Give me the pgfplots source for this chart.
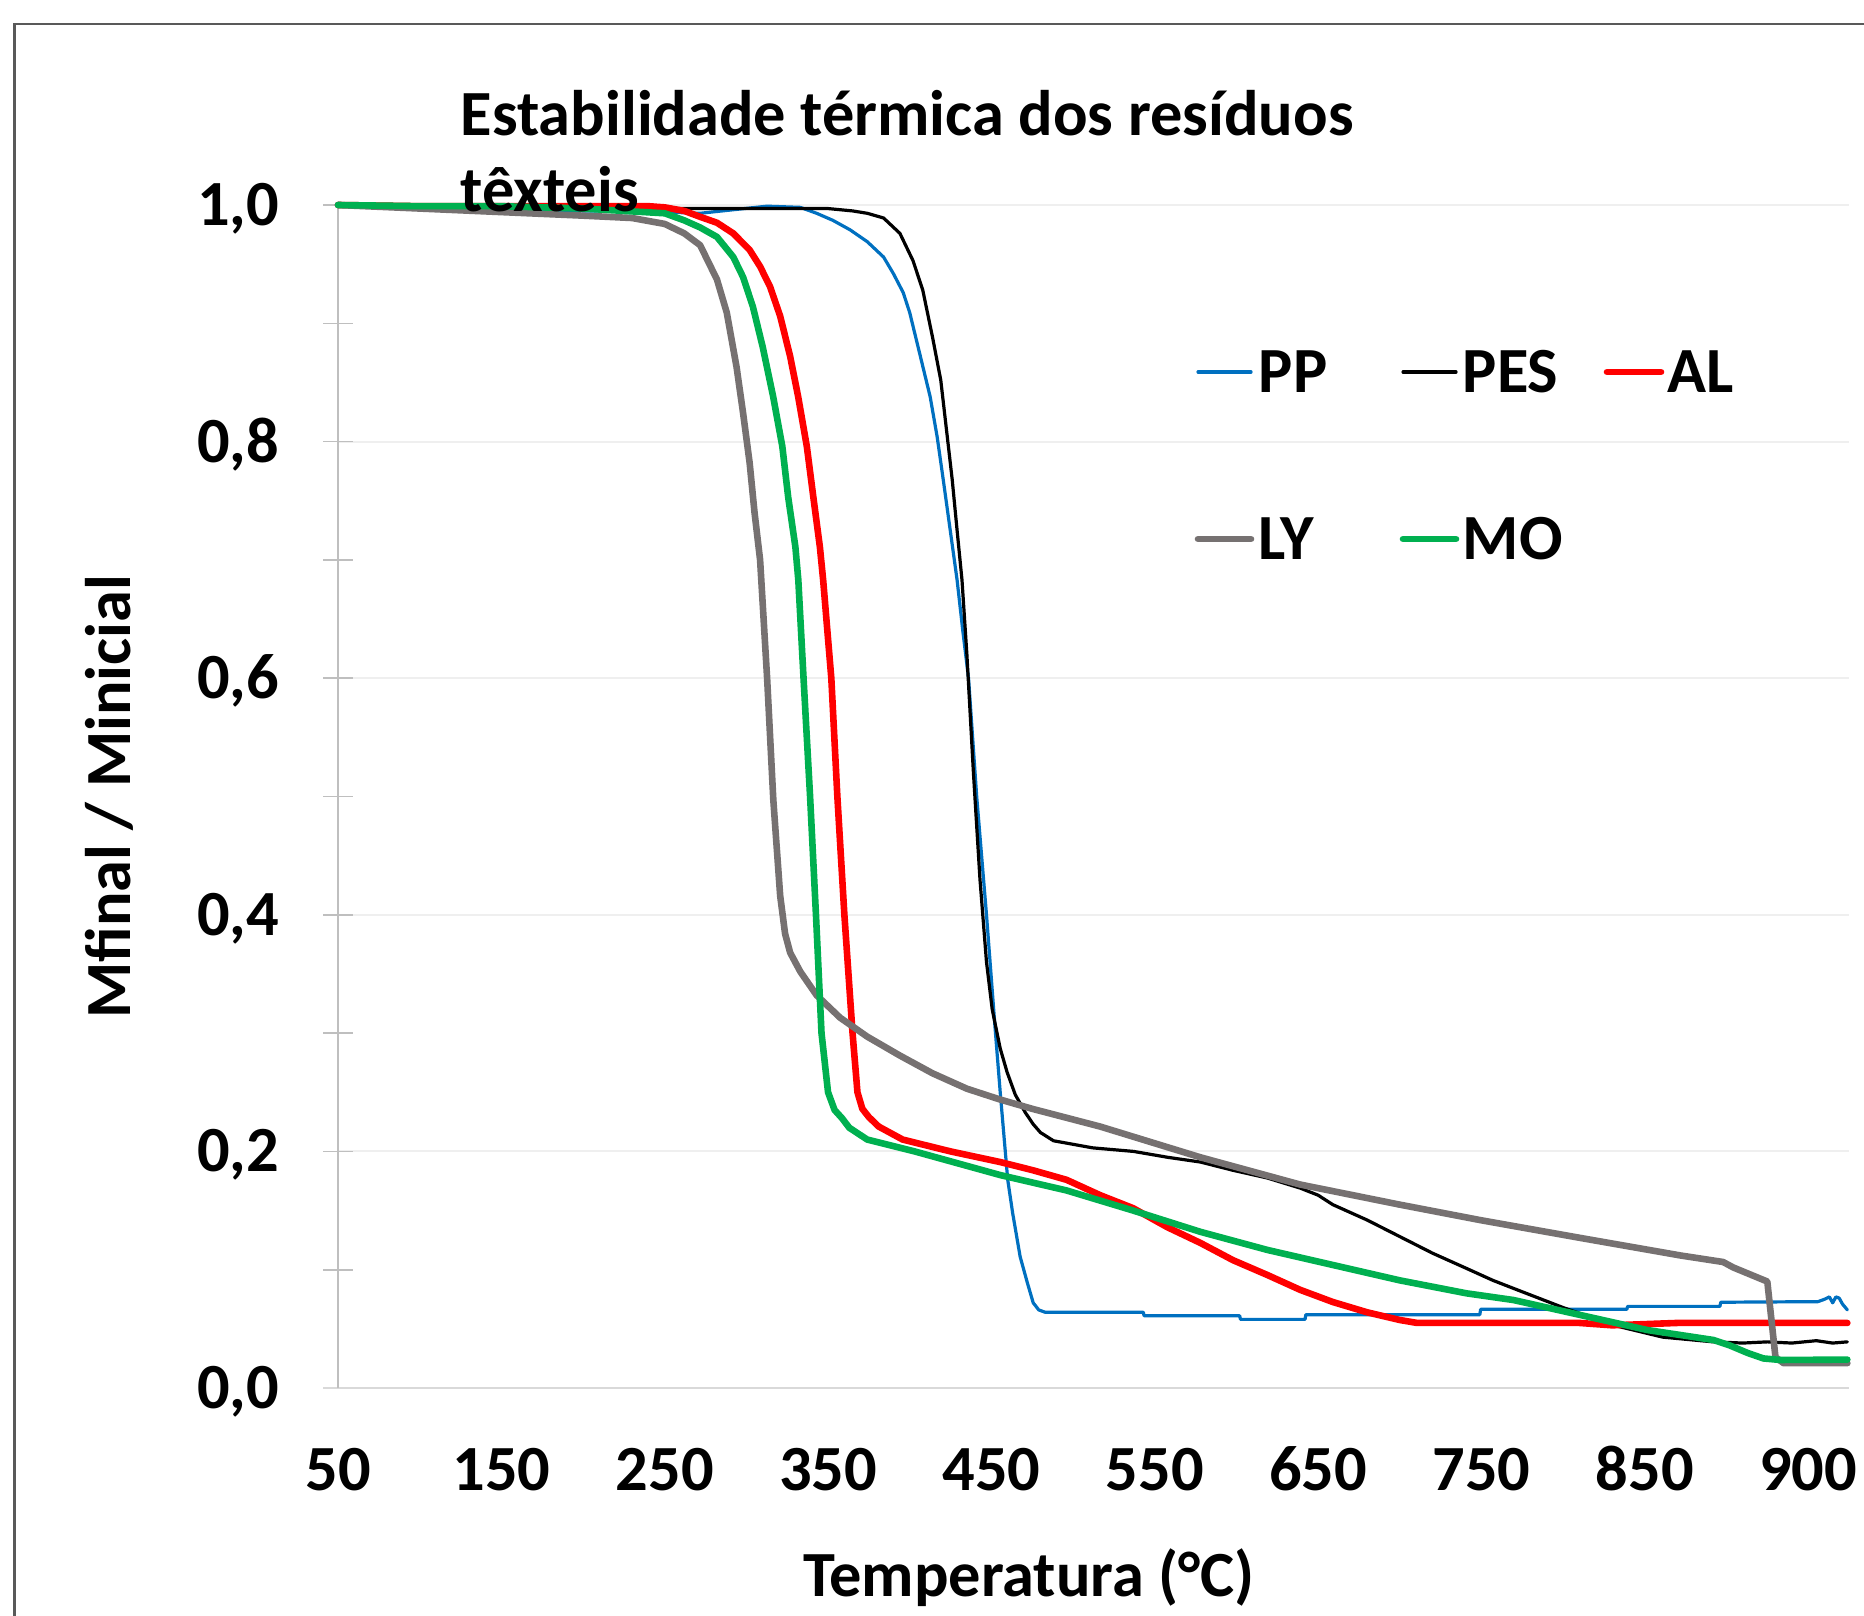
\documentclass[border=0pt]{standalone}
\usepackage{fontspec}
\setmainfont{Carlito}
\usepackage{pgfplots}
\pgfplotsset{compat=1.18}

\definecolor{ppblue}{HTML}{0070C0}
\definecolor{alred}{HTML}{FF0000}
\definecolor{lygray}{HTML}{767171}
\definecolor{mogreen}{HTML}{00B050}
\definecolor{gridc}{HTML}{EFEFEF}
\definecolor{axisc}{HTML}{BFBFBF}
\definecolor{xaxisc}{HTML}{D9D9D9}
\definecolor{framec}{HTML}{595959}

\newcommand\lbl{\fontsize{16.1}{19.6}\selectfont\bfseries}

\begin{document}
\begin{tikzpicture}
\useasboundingbox (0,0) rectangle (466pt,-404pt);
% chart area frame (cut by the picture edge on the right and bottom)
\draw[framec, line width=0.6pt] (466pt,-6pt) -- (3.6pt,-6pt) -- (3.6pt,-404pt);

\begin{axis}[
  at={(84.5pt,-347pt)}, anchor=south west,
  scale only axis, width=377.75pt, height=295.75pt,
  xmin=50, xmax=975, ymin=0, ymax=1,
  axis x line=bottom, axis y line=left, axis line style={-},
  x axis line style={draw=xaxisc, line width=0.7pt, shorten <=-3.75pt},
  y axis line style={draw=axisc, line width=0.4pt},
  xtick={50,150,250,350,450,550,650,750,850,950},
  xticklabels={50,150,250,350,450,550,650,750,850,900},
  xtick style={draw=none},
  ytick={0,0.2,0.4,0.6,0.8,1},
  yticklabels={{0,0},{0,2},{0,4},{0,6},{0,8},{1,0}},
  minor ytick={0.1,0.3,0.5,0.7,0.9},
  ytick style={draw=axisc, line width=0.4pt},
  tick align=center, major tick length=7.5pt, minor tick length=7.5pt,
  ymajorgrids, major grid style={draw=gridc, line width=0.5pt},
  tick label style={font=\lbl},
  y tick label style={anchor=base east, inner sep=0pt, xshift=-10.8pt, yshift=-5.1pt},
  x tick label style={anchor=base, inner sep=0pt, yshift=-21.95pt},
  clip=false,
  every axis plot/.append style={line join=round, line cap=round},
]
% PP
\addplot[ppblue, line width=0.8pt] coordinates {
(50,1.0) (100,0.997) (150,0.996) (200,0.995) (250,0.994) (271.7,0.993)
(292,0.996) (312.7,0.999) (333,0.998) (343,0.993) (353,0.987) (363.5,0.979)
(374,0.969) (384,0.956) (390,0.942) (396,0.926) (400,0.909) (406,0.875)
(412.5,0.838) (416.8,0.804) (420.5,0.768) (424.8,0.725) (429,0.683)
(432.5,0.64) (436,0.6) (441,0.5) (447,0.4) (452.5,0.3) (455.4,0.25)
(458.5,0.2) (460,0.176) (463,0.148) (467.6,0.111) (472,0.089) (475.6,0.072)
(479,0.066) (483,0.064) (543,0.064) (543.5,0.061) (602,0.061) (602.5,0.058)
(642,0.058) (642.5,0.062) (749,0.062) (749.5,0.0665) (839,0.0665)
(839.5,0.069) (896,0.069) (896.5,0.0725) (956,0.073) (960,0.075) (963,0.077)
(965,0.072) (967,0.077) (969,0.076) (971,0.071) (974,0.066)
};
% PES
\addplot[black, line width=0.8pt] coordinates {
(50,1.0) (150,0.998) (250,0.997) (300,0.997) (350,0.997) (365,0.995)
(374,0.993) (384,0.989) (394,0.976) (402,0.953) (408,0.928) (414,0.888)
(419,0.852) (423,0.804) (426,0.768) (429,0.725) (432,0.683) (435,0.62)
(439,0.52) (443,0.43) (447,0.36) (450.5,0.32) (455.4,0.287) (459.6,0.267)
(464.6,0.248) (470.7,0.233) (475.6,0.223) (480,0.216) (488,0.209)
(496,0.207) (512,0.203) (537,0.200) (558,0.195) (578,0.191) (598,0.184)
(619,0.1775) (639,0.169) (650,0.163) (659,0.155) (680,0.142) (700,0.128)
(720,0.114) (741,0.101) (757,0.091) (770,0.084) (800,0.068) (831,0.053)
(861,0.043) (892,0.039) (910,0.038) (925,0.039) (940,0.038) (955,0.040)
(965,0.038) (974,0.039)
};
% AL
\addplot[alred, line width=1.65pt] coordinates {
(50,1.0) (100,0.999) (150,0.999) (200,0.999) (240,0.999) (250,0.998)
(262,0.995) (271.7,0.990) (282,0.985) (292,0.976) (302,0.962) (308.4,0.948)
(314.5,0.931) (320.7,0.906) (326.8,0.872) (331.7,0.838) (337,0.796)
(341,0.753) (345,0.711) (347,0.683) (352,0.6) (355.7,0.5) (360,0.4)
(365,0.3) (368,0.25) (371,0.236) (375,0.229) (381,0.221) (395.7,0.21)
(425,0.2) (455.4,0.191) (475.6,0.184) (496,0.176) (516.6,0.163)
(536.8,0.152) (557.6,0.136) (578,0.1226) (598,0.108) (619,0.0955)
(639,0.083) (659,0.0727) (680,0.064) (700,0.0575) (710.6,0.055)
(761,0.055) (810,0.055) (830,0.053) (850,0.054) (870,0.055) (900,0.055)
(940,0.055) (974,0.055)
};
% LY
\addplot[lygray, line width=1.65pt] coordinates {
(50,1.0) (100,0.997) (150,0.994) (200,0.991) (230,0.989) (250,0.984)
(262,0.976) (271.7,0.966) (282,0.937) (288,0.909) (294,0.863) (298,0.824)
(302,0.782) (305,0.740) (308.4,0.70) (312.7,0.6) (316.5,0.497)
(320.7,0.416) (323.7,0.384) (326.8,0.368) (333,0.352) (343,0.332)
(357.4,0.313) (374,0.297) (394,0.281) (414,0.266) (435,0.253) (455,0.244)
(475,0.236) (516.6,0.221) (578,0.195) (639,0.172) (700,0.155) (749,0.142)
(810,0.127) (872,0.112) (898,0.1065) (904,0.102) (925,0.090) (930,0.026)
(935,0.021) (974,0.021)
};
% MO
\addplot[mogreen, line width=1.65pt] coordinates {
(50,1.0) (100,0.999) (150,0.999) (200,0.997) (250,0.993) (262,0.987)
(271.7,0.981) (282,0.973) (292,0.956) (298,0.939) (304,0.914) (310,0.880)
(316.4,0.838) (322,0.796) (325.6,0.753) (330,0.711) (331.8,0.683)
(335,0.6) (339,0.5) (342.6,0.4) (346,0.3) (350,0.25) (354,0.235)
(358.6,0.228) (363,0.22) (374,0.21) (403,0.2) (455.4,0.180) (496,0.167)
(536.8,0.150) (578,0.132) (619,0.1167) (659,0.104) (700,0.091) (741,0.080)
(769.5,0.0744) (810.6,0.0617) (851.6,0.049) (892,0.0406) (902,0.036)
(913,0.0296) (922.6,0.025) (933,0.0237) (974,0.024)
};
\end{axis}

% title
\node[anchor=base west, inner sep=0pt, font=\lbl] at (115pt,-34pt) {Estabilidade térmica dos resíduos};
\node[anchor=base west, inner sep=0pt, font=\lbl] at (115pt,-53pt) {têxteis};

% axis titles
\node[rotate=90, font=\lbl] at (27.25pt,-199.25pt) {Mfinal / Minicial};
\node[font=\lbl] at (257.25pt,-394.5pt) {Temperatura (°C)};

% legend
\begin{scope}[line cap=round]
\draw[ppblue, line width=0.8pt] (299.5pt,-93pt) -- (312.75pt,-93pt);
\node[anchor=base west, inner sep=0pt, font=\lbl] at (314.5pt,-98.2pt) {PP};
\draw[black, line width=0.8pt] (350.75pt,-93pt) -- (364pt,-93pt);
\node[anchor=base west, inner sep=0pt, font=\lbl] at (365.5pt,-98.2pt) {PES};
\draw[alred, line width=1.65pt] (401.75pt,-93pt) -- (415.25pt,-93pt);
\node[anchor=base west, inner sep=0pt, font=\lbl] at (416.75pt,-98.2pt) {AL};
\draw[lygray, line width=1.65pt] (299.5pt,-134.75pt) -- (312.75pt,-134.75pt);
\node[anchor=base west, inner sep=0pt, font=\lbl] at (314.5pt,-139.95pt) {LY};
\draw[mogreen, line width=1.65pt] (350.75pt,-134.75pt) -- (364pt,-134.75pt);
\node[anchor=base west, inner sep=0pt, font=\lbl] at (365.5pt,-139.95pt) {MO};
\end{scope}
\end{tikzpicture}
\end{document}
